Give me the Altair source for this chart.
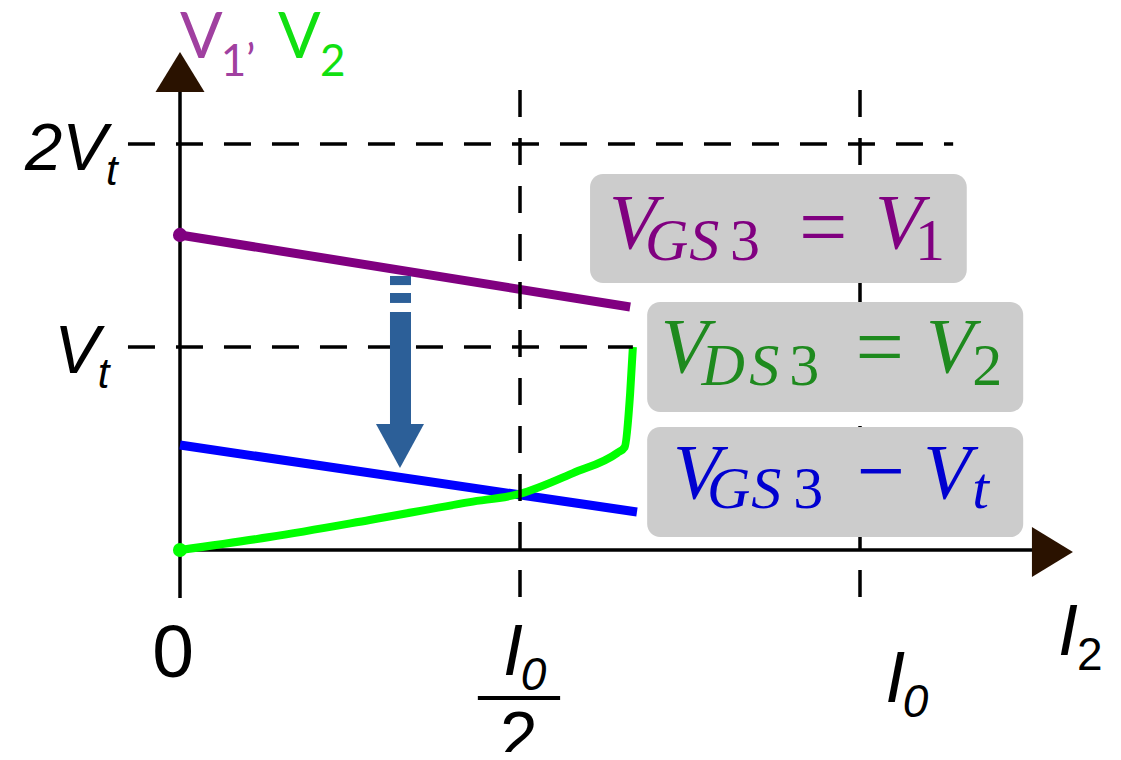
import altair as alt
import pandas as pd

# ---------------- data (x in units of I0, y in units of Vt) ----------------
# curves
v1_x = [0.0, 0.662]
v1_y = [1.552, 1.197]
vov_x = [0.0, 0.672]
vov_y = [0.517, 0.187]
v2_x = [0.0, 0.132, 0.279, 0.426, 0.499, 0.578, 0.643, 0.654, 0.662, 0.666]
v2_y = [0.0, 0.064, 0.148, 0.236, 0.276, 0.379, 0.478, 0.507, 0.773, 1.0]

# dashed guide lines (start point first)
guide_x = [-0.0765, -0.0765, 0.5, 1.0]
guide_x2 = [1.137, 0.666, 0.5, 1.0]
guide_y = [2.0, 1.0, 2.266, 2.266]
guide_y2 = [2.0, 1.0, -0.232, -0.232]

# axes
axis_x = [0.0, 0.0]
axis_x2 = [0.0, 1.257]
axis_y = [-0.236, 0.0]
axis_y2 = [2.256, 0.0]

# label boxes
box_x = [0.603, 0.687, 0.687]
box_x2 = [1.157, 1.240, 1.240]
box_y = [1.852, 1.222, 0.606]
box_y2 = [1.315, 0.680, 0.064]

# blue arrow pieces
arr_x, arr_x2 = 0.3088, 0.3397
arr_y = [1.350, 1.266, 1.172]
arr_y2 = [1.305, 1.217, 0.616]
arr_head_x, arr_head_y = 0.3235, 0.512

# text pieces: text, x, y, size, colour, group
PUR, GRN, BLU, BLK = "#800080", "#1e8a1e", "#0000d0", "#000000"
TOP_P, TOP_G = "#a040a0", "#11e011"
txt = ["V", "G", "S", "3", "=", "V", "1",
       "V", "D", "S", "3", "=", "V", "2",
       "V", "G", "S", "3", "\u2212", "V", "t",
       "2V", "t", "V", "t", "0", "I", "0", "2", "I", "0", "I", "2",
       "V", "1", "\u2019", "V", "2", "n"]
txt_x = [0.631, 0.684, 0.749, 0.809, 0.946, 1.022, 1.081,
         0.707, 0.767, 0.837, 0.896, 1.029, 1.097, 1.165,
         0.725, 0.775, 0.840, 0.902, 1.031, 1.093, 1.165,
         -0.228, -0.109, -0.185, -0.121, -0.0103, 0.475, 0.501, 0.4985, 1.037, 1.063, 1.291, 1.319,
         0.0, 0.060, 0.097, 0.144, 0.206, -0.3015]
txt_y = [1.488, 1.429, 1.429, 1.429, 1.448, 1.488, 1.429,
         0.877, 0.813, 0.813, 0.813, 0.857, 0.877, 0.813,
         0.256, 0.207, 0.207, 0.207, 0.246, 0.256, 0.207,
         1.872, 1.798, 0.872, 0.798, -0.626, -0.616, -0.690, -1.030, -0.749, -0.823, -0.517, -0.591,
         2.424, 2.335, 2.335, 2.424, 2.335, -0.911]
txt_size = [78, 60, 60, 60, 86, 78, 60,
            78, 60, 60, 60, 86, 78, 60,
            78, 60, 60, 60, 86, 78, 60,
            67, 42, 68, 42, 75, 72, 46, 68, 72, 46, 72, 46,
            63, 44, 44, 63, 44, 66]
txt_col = [PUR] * 7 + [GRN] * 7 + [BLU] * 7 + [BLK] * 12 + [TOP_P] * 3 + [TOP_G] * 2 + [BLK]
txt_grp = ["si", "si", "si", "su", "sc", "si", "su",
           "si", "si", "si", "su", "sc", "si", "su",
           "si", "si", "si", "su", "sc", "si", "si",
           "ai", "ai", "ai", "ai", "ac", "ai", "ai", "ac", "ai", "ai", "ai", "au",
           "la", "la", "la", "la", "la", "la"]

frac_x, frac_x2, frac_y = 0.438, 0.559, -0.729

# ---------------- layout ----------------
W, H = 1100, 744
PXX, PXY = 680.0, 203.0          # pixels per unit
X0PX, Y0PX = 180 - 8, 550 - 8    # origin position inside the plot area
xmin = -X0PX / PXX
xmax = xmin + W / PXX
ymax = Y0PX / PXY
ymin = ymax - H / PXY
xs = alt.Scale(domain=[xmin, xmax], nice=False, zero=False)
ys = alt.Scale(domain=[ymin, ymax], nice=False, zero=False)


def X(f="x"):
    return alt.X(f"{f}:Q", scale=xs, axis=None)


def Y(f="y"):
    return alt.Y(f"{f}:Q", scale=ys, axis=None)


layers = []

# axes
axes_df = pd.DataFrame({"x": axis_x, "x2": axis_x2, "y": axis_y, "y2": axis_y2})
layers.append(alt.Chart(axes_df).mark_rule(color="#000000", strokeWidth=3.5).encode(
    x=X(), x2="x2:Q", y=Y(), y2="y2:Q"))
up_df = pd.DataFrame({"x": [0.0], "y": [2.355]})
layers.append(alt.Chart(up_df).mark_point(
    shape="M0,-0.816 L1,0.816 L-1,0.816 Z", filled=True, size=2401,
    color="#2a1200", opacity=1, strokeWidth=0).encode(x=X(), y=Y()))
right_df = pd.DataFrame({"x": [1.283], "y": [-0.01]})
layers.append(alt.Chart(right_df).mark_point(
    shape="M0.82,0 L-0.82,-1 L-0.82,1 Z", filled=True, size=2500,
    color="#2a1200", opacity=1, strokeWidth=0).encode(x=X(), y=Y()))

# curves
def curve(xv, yv, col, w, interp="linear"):
    d = pd.DataFrame({"x": xv, "y": yv, "i": list(range(len(xv)))})
    return alt.Chart(d).mark_line(color=col, strokeWidth=w, strokeCap="butt",
                                  strokeJoin="round", interpolate=interp).encode(
        x=X(), y=Y(), order="i:Q")

layers.append(curve(v1_x, v1_y, "#800080", 9))
layers.append(curve(vov_x, vov_y, "#0000ff", 9))
layers.append(curve(v2_x, v2_y, "#00ff00", 8, "monotone"))

# dashed guides
g_df = pd.DataFrame({"x": guide_x, "x2": guide_x2, "y": guide_y, "y2": guide_y2})
layers.append(alt.Chart(g_df).mark_rule(color="#000000", strokeWidth=3.5,
                                        strokeDash=[27, 21]).encode(
    x=X(), x2="x2:Q", y=Y(), y2="y2:Q"))

# start dots
dots = pd.DataFrame({"x": [0.0, 0.0], "y": [v1_y[0], v2_y[0]],
                     "c": ["#800080", "#00ff00"]})
layers.append(alt.Chart(dots).mark_circle(size=200, opacity=1).encode(
    x=X(), y=Y(), color=alt.Color("c:N", scale=None)))

# blue arrow
a_df = pd.DataFrame({"x": [arr_x] * 3, "x2": [arr_x2] * 3, "y": arr_y, "y2": arr_y2})
layers.append(alt.Chart(a_df).mark_rect(color="#2c5f98").encode(
    x=X(), x2="x2:Q", y=Y(), y2="y2:Q"))
ah_df = pd.DataFrame({"x": [arr_head_x], "y": [arr_head_y]})
layers.append(alt.Chart(ah_df).mark_point(
    shape="M-1,-0.917 L1,-0.917 L0,0.917 Z", filled=True, size=2304,
    color="#2c5f98", opacity=1, strokeWidth=0).encode(x=X(), y=Y()))

# label boxes
b_df = pd.DataFrame({"x": box_x, "x2": box_x2, "y": box_y, "y2": box_y2})
layers.append(alt.Chart(b_df).mark_rect(color="#cccccc", cornerRadius=13).encode(
    x=X(), x2="x2:Q", y=Y(), y2="y2:Q"))

# fraction bar
f_df = pd.DataFrame({"x": [frac_x], "x2": [frac_x2], "y": [frac_y]})
layers.append(alt.Chart(f_df).mark_rule(color="#000000", strokeWidth=4).encode(
    x=X(), x2="x2:Q", y=Y()))

# texts
t_df = pd.DataFrame({"t": txt, "x": txt_x, "y": txt_y, "s": txt_size,
                     "c": txt_col, "g": txt_grp})
styles = {
    "si": dict(font="Liberation Serif", fontStyle="italic", align="left"),
    "su": dict(font="Liberation Serif", fontStyle="normal", align="left"),
    "sc": dict(font="Liberation Serif", fontStyle="normal", align="center"),
    "ai": dict(font="Liberation Sans", fontStyle="italic", align="left"),
    "au": dict(font="Liberation Sans", fontStyle="normal", align="left"),
    "ac": dict(font="Liberation Sans", fontStyle="normal", align="center"),
    "la": dict(font="Lato", fontStyle="normal", align="left"),
}
for g, st in styles.items():
    sub = t_df[t_df["g"] == g]
    layers.append(alt.Chart(sub).mark_text(baseline="alphabetic", **st).encode(
        x=X(), y=Y(), text="t:N",
        size=alt.Size("s:Q", scale=None),
        color=alt.Color("c:N", scale=None)))

chart = alt.layer(*layers).properties(
    width=W, height=H, padding=0,
    autosize=alt.AutoSizeParams(type="none"),
    background="#ffffff",
).configure_view(stroke=None)

chart.save("out.html", embed_options={"renderer": "svg", "actions": False})
